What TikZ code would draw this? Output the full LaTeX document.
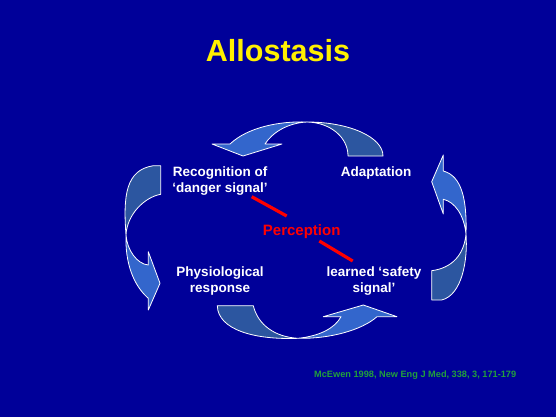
\documentclass[tikz,border=0pt]{standalone}
\usepackage{fontspec}
\setmainfont{Liberation Sans}
\definecolor{bgblue}{RGB}{0,0,153}
\definecolor{arrowlight}{RGB}{51,102,204}
\definecolor{arrowdark}{RGB}{44,86,160}
\definecolor{titleyellow}{RGB}{255,240,0}
\definecolor{citegreen}{RGB}{34,160,60}
\tikzset{
  lightpart/.style={fill=arrowlight, draw=white, line width=0.8pt, line join=round},
  darkpart/.style={fill=arrowdark, draw=white, line width=0.8pt, line join=round},
  label/.style={text=white, font=\bfseries\fontsize{13.5}{15.8}\selectfont, align=center, inner sep=0pt, anchor=base},
  redlink/.style={draw=red, line width=3.2pt}
}
\begin{document}
\begin{tikzpicture}[x=1pt,y=-1pt]
\fill[bgblue] (0,0) rectangle (556,417);
\useasboundingbox (0,0) rectangle (556,417);

% title
\node[text=titleyellow, font=\bfseries\fontsize{30.5}{35}\selectfont, inner sep=0pt, anchor=base] (title) at (278,62) {Allostasis};

% top arrow
\path[darkpart] (348,156) -- (383,156) .. controls (383,137) and (349,122) .. (307,122) .. controls (330,122.5) and (348,137) .. cycle;
\path[lightpart] (307,122) .. controls (280,121) and (248,127) .. (230,144) -- (212,144) -- (243,156) -- (282,144) -- (265,144) .. controls (272,133) and (287,123) .. cycle;

% left arrow
\path[darkpart] (153.3,165.7) -- (160.7,165.7) -- (160.7,194.3) .. controls (145,197) and (127,214) .. (126,235) .. controls (123,195) and (126,170) .. cycle;
\path[lightpart] (126,235) .. controls (127,250) and (137,264) .. (148.3,265) -- (148.3,251.7) -- (160,283.3) -- (148.3,310) -- (148.3,298.3) .. controls (133,285) and (125,262) .. cycle;

% right arrow
\path[lightpart] (466,234) .. controls (467,200) and (462,176) .. (443.3,171) -- (443.3,155) -- (431.7,181.7) -- (443.3,214) -- (443.3,199.3) .. controls (455,202) and (464,215) .. cycle;
\path[darkpart] (466,234) .. controls (468,260) and (462,295) .. (441.7,300) -- (431.7,300) -- (431.7,270.7) .. controls (452,268) and (464,255) .. cycle;

% bottom arrow
\path[darkpart] (217.3,305.7) -- (253.3,305.7) .. controls (258,325) and (275,337) .. (298,338.3) .. controls (255,340) and (218,330) .. cycle;
\path[lightpart] (298,338.3) .. controls (320,336) and (335,328) .. (341,316.7) -- (323.3,316.7) -- (363.3,305) -- (397,316.7) -- (377,316.7) .. controls (362,330) and (330,339) .. cycle;

% labels (base = baseline of the last line)
\node[label] (recog) at (220,192.4) {Recognition of\\‘danger signal’};
\node[label] (adapt) at (376,176.7) {Adaptation};
\node[label] (physio) at (220,292.6) {Physiological\\response};
\node[label] (safety) at (374,292.6) {learned ‘safety\\signal’};
\node[text=red, font=\bfseries\fontsize{15}{18}\selectfont, inner sep=0pt, anchor=base] (perc) at (301.7,235) {Perception};

% red links
\coordinate (d1) at (251.7,196.7);
\coordinate (p1) at (286.7,216);
\coordinate (p2) at (319.3,241);
\coordinate (s1) at (352.7,261);
\draw[redlink] (d1) -- (p1);
\draw[redlink] (p2) -- (s1);

% citation
\node[text=citegreen, font=\bfseries\fontsize{9.2}{11}\selectfont, inner sep=0pt, anchor=base west] (cite) at (314,377.3) {McEwen 1998, New Eng J Med, 338, 3, 171-179};
\end{tikzpicture}
\end{document}
